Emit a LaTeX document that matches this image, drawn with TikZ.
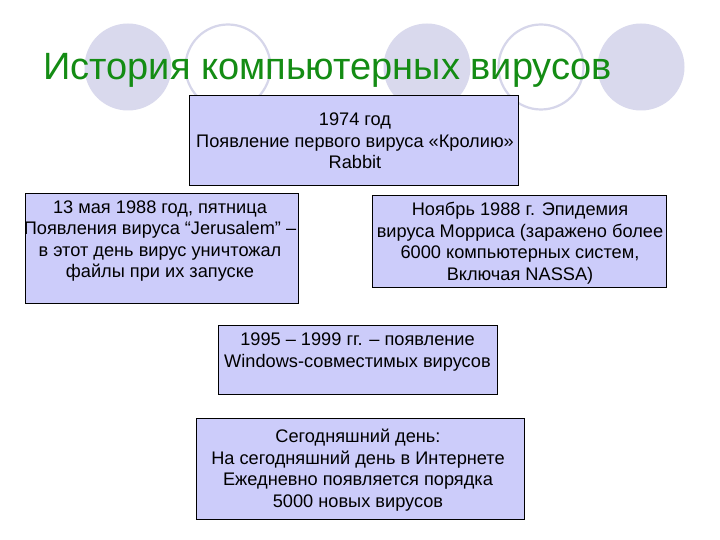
\documentclass[tikz,border=0pt]{standalone}
\usepackage{fontspec}
\setmainfont{Liberation Sans}
\definecolor{titlegreen}{RGB}{20,140,20}
\definecolor{circfill}{RGB}{217,217,237}
\definecolor{circline}{RGB}{214,214,234}
\definecolor{boxfill}{RGB}{204,204,250}
\tikzset{
  dot/.style={circle, fill=circfill, draw=none, minimum size=87pt, inner sep=0pt},
  ring/.style={circle, draw=circline, line width=2.2pt, minimum size=85pt, inner sep=0pt},
  box/.style={rectangle, draw=black, line width=0.9pt, fill=boxfill, inner sep=0pt},
  txt/.style={align=center, inner sep=0pt, font=\fontsize{18.2}{21.5}\selectfont, text=black},
}
\begin{document}
\begin{tikzpicture}[x=1pt,y=-1pt]
\useasboundingbox[fill=white] (0,0) rectangle (720,540);
% background circles
\node[dot]  (c1) at (128,67) {};
\node[ring] (c2) at (228,67) {};
\node[dot]  (c3) at (427,67) {};
\node[ring] (c4) at (541,67) {};
\node[dot]  (c5) at (641,67) {};
% title
\node[anchor=base west, inner sep=0pt, text=titlegreen, font=\fontsize{38}{40}\selectfont] (title) at (43,80) {История компьютерных вирусов};
% boxes
\node[box, minimum width=329pt, minimum height=90pt] (b1) at (353.5,140) {};
\node[box, minimum width=273pt, minimum height=110pt] (b2) at (161.5,248) {};
\node[box, minimum width=294pt, minimum height=92pt] (b3) at (519,241) {};
\node[box, minimum width=279pt, minimum height=69pt] (b4) at (357.5,359.5) {};
\node[box, minimum width=328pt, minimum height=101pt] (b5) at (360,468.5) {};
% texts
\node[txt] (t1) at (355,141) {1974 год\\Появление первого вируса «Кролию»\\Rabbit};
\node[txt] (t2) at (160,241) {13 мая 1988 год, пятница\\Появления вируса “Jerusalem” –\\в этот день вирус уничтожал\\файлы при их запуске};
\node[txt] (t3) at (520,243) {Ноябрь 1988 г. Эпидемия\\вируса Морриса (заражено более\\6000 компьютерных систем,\\Включая NASSA)};
\node[txt] (t4) at (357.5,352) {1995 – 1999 гг. – появление\\Windows-совместимых вирусов};
\node[txt] (t5) at (358,470) {Сегодняшний день:\\На сегодняшний день в Интернете\\Ежедневно появляется порядка\\5000 новых вирусов};
\end{tikzpicture}
\end{document}
